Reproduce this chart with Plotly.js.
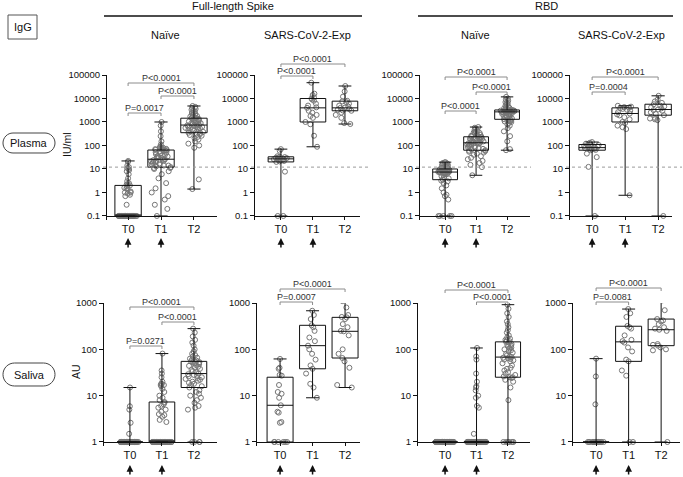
<!DOCTYPE html>
<html><head><meta charset="utf-8">
<script src="https://cdn.plot.ly/plotly-3.0.1.min.js"></script>
<style>html,body{margin:0;padding:0;background:#fff;} #chart{width:683px;height:477px;}</style>
</head><body><div id="chart"></div>
<script>
// ---------- DATA ----------
const timepoints = ['T0', 'T1', 'T2'];
const plasmaTicks = [0.1, 1, 10, 100, 1000, 10000, 100000];
const plasmaTickText = ['0.1', '1', '10', '100', '1000', '10000', '100000'];
const salivaTicks = [1, 10, 100, 1000];
const salivaTickText = ['1', '10', '100', '1000'];
const plasmaCutoff = 12;
const arrowTimepoints = [0, 1];

// Plasma, Full-length Spike, Naive
const plasmaSpikeNaiveT0 = [0.1,0.1,0.1,0.1,0.1,0.1,0.1,0.1,0.1,0.1,0.1,0.1,0.1,0.1,0.1,0.1,0.1,0.1,0.1,0.1,0.1,0.1,0.1,0.1,0.1,0.1,0.1,0.1,0.1,0.1,0.1,0.1,0.1,0.1,0.3,0.7,0.8,0.9,1.0,1.0,1.1,1.3,1.5,1.6,1.8,2.0,2.0,2.2,2.5,3,4,6,8,9,10,11,12,14,20,22];
const plasmaSpikeNaiveT1 = [0.1,0.2,0.3,0.5,0.7,1,1.5,2.5,4,6,8,10,11,11,12,13,14,14,15,16,17,18,19,20,21,22,23,24,25,26,28,30,32,34,36,38,40,43,46,49,52,55,58,60,63,65,68,70,72,75,78,80,85,90,110,150,250,400,700,1000];
const plasmaSpikeNaiveT2 = [1.4,3.6,80,100,120,150,180,200,230,260,280,300,320,340,350,380,400,430,460,480,500,530,560,590,620,650,680,700,720,740,780,820,860,900,950,1000,1050,1100,1150,1200,1250,1300,1350,1400,1450,1500,1600,1700,1800,2000,2200,2400,2600,2800,3000,3300,3600,4000,4400,4800];
const plasmaSpikeNaiveQ1 = [0.1, 12, 350];
const plasmaSpikeNaiveMedian = [0.1, 26, 740];
const plasmaSpikeNaiveQ3 = [2, 64, 1450];
const plasmaSpikeNaiveMin = [0.1, 0.1, 1.4];
const plasmaSpikeNaiveMax = [22, 1000, 4800];
const plasmaSpikeNaivePairs = [[0, 2], [1, 2], [0, 1]];
const plasmaSpikeNaiveP = ['P<0.0001', 'P<0.0001', 'P=0.0017'];

// Plasma, Full-length Spike, SARS-CoV-2-Exp
const plasmaSpikeExpT0 = [0.1,0.1,7.7,20,21,22,23,24,25,26,27,28,29,30,31,32,33,35,60,70];
const plasmaSpikeExpT1 = [88,260,800,1000,1500,1800,2000,2500,3000,4000,4200,5000,6000,8000,9000,10000,11000,14000,16000,47000];
const plasmaSpikeExpT2 = [820,900,1500,2000,2500,3000,3100,3300,3600,4000,4100,4500,5000,6000,7000,7500,8000,12000,20000,34000];
const plasmaSpikeExpQ1 = [20, 1000, 3000];
const plasmaSpikeExpMedian = [27, 4000, 4000];
const plasmaSpikeExpQ3 = [33, 10000, 7700];
const plasmaSpikeExpMin = [0.1, 88, 820];
const plasmaSpikeExpMax = [70, 47000, 34000];
const plasmaSpikeExpPairs = [[0, 2], [0, 1]];
const plasmaSpikeExpP = ['P<0.0001', 'P<0.0001'];

// Plasma, RBD, Naive
const plasmaRbdNaiveT0 = [0.1,0.1,0.1,0.1,0.1,0.5,0.7,0.8,1,1.5,2,2.5,3,3.2,3.5,4,4.5,5,5.5,6,6.2,6.5,6.8,7,7.1,7.2,7.3,7.4,7.4,7.5,7.6,7.8,8,8.2,8.4,8.6,8.8,9,9.2,9.4,9.5,9.6,9.8,10,10,10.5,11,11,12,12,13,13,14,14,15,16,17,18,19,19.5];
const plasmaRbdNaiveT1 = [5.4,12,15,18,22,26,30,35,40,45,50,54,58,60,63,68,72,76,80,85,90,95,100,105,110,115,120,124,127,130,135,140,145,150,160,165,170,180,185,190,200,210,220,228,235,240,250,260,280,300,320,340,360,380,400,430,470,520,570,610];
const plasmaRbdNaiveT2 = [63,70,150,250,400,550,700,800,900,1000,1050,1100,1150,1250,1300,1400,1500,1600,1700,1850,2000,2100,2200,2300,2400,2500,2550,2600,2650,2700,2750,2800,2850,2900,2950,3000,3020,3050,3080,3100,3130,3160,3190,3220,3250,3400,3600,3800,4000,4300,4600,5000,5500,6000,6500,7000,8000,9000,10000,11700];
const plasmaRbdNaiveQ1 = [3.5, 63, 1300];
const plasmaRbdNaiveMedian = [7.4, 130, 2700];
const plasmaRbdNaiveQ3 = [10, 235, 3250];
const plasmaRbdNaiveMin = [0.1, 5.4, 63];
const plasmaRbdNaiveMax = [19.5, 610, 11700];
const plasmaRbdNaivePairs = [[0, 2], [1, 2], [0, 1]];
const plasmaRbdNaiveP = ['P<0.0001', 'P<0.0001', 'P<0.0001'];

// Plasma, RBD, SARS-CoV-2-Exp
const plasmaRbdExpT0 = [0.1,12.3,32,45,63,65,68,72,75,78,81,85,90,95,100,105,110,120,130,140];
const plasmaRbdExpT1 = [0.76,500,600,700,900,1000,1300,1600,1900,2100,2300,2600,3000,3300,3600,3900,4100,4300,4500,4900];
const plasmaRbdExpT2 = [0.1,1200,1300,1400,1500,1950,2200,2600,3000,3200,3400,3800,4200,4600,5000,5700,6500,7500,9000,13000];
const plasmaRbdExpQ1 = [63, 1000, 1950];
const plasmaRbdExpMedian = [81, 2300, 3400];
const plasmaRbdExpQ3 = [110, 4000, 5700];
const plasmaRbdExpMin = [0.1, 0.76, 0.1];
const plasmaRbdExpMax = [140, 4900, 13000];
const plasmaRbdExpPairs = [[0, 2], [0, 1]];
const plasmaRbdExpP = ['P<0.0001', 'P=0.0004'];

// Saliva, Full-length Spike, Naive
const salivaSpikeNaiveT0 = [1,1,1,1,1,1,1,1,1,1,1,1,1,1,1,1,1,1,1,1,1,1,1,1,1,1,1,1,1,1,1,1,1,1,1,1,1,1,1,1,1,1,1,1,1,1,1,1,1,1,1,1,1,1,1,1.5,2.6,5,5.9,15];
const salivaSpikeNaiveT1 = [1,1,1,1,1,1,1,1,1,1,1,1,1,1,1,1,1,1,1,1,1,1,1,1,1,1,1,1,1,1,1,1,1,2.7,3,3.5,3.8,4,4.5,5,5.5,6,6.5,7,7.3,8,9,10,12,14,16,17,17,18,18,20,25,30,35,81];
const salivaSpikeNaiveT2 = [1,1,1,1,5,5.5,6,7,8,9,10,11,12,13,15,16,17,18,19,20,21,22,23,24,25,26,27,28,29,30,32,34,36,38,40,42,44,46,48,50,51,52,53,54,55,57,60,63,66,70,75,80,90,100,120,140,160,190,230,280];
const salivaSpikeNaiveQ1 = [1, 1, 15];
const salivaSpikeNaiveMedian = [1, 1, 30];
const salivaSpikeNaiveQ3 = [1, 7.3, 55];
const salivaSpikeNaiveMin = [1, 1, 1];
const salivaSpikeNaiveMax = [15, 81, 280];
const salivaSpikeNaivePairs = [[0, 2], [1, 2], [0, 1]];
const salivaSpikeNaiveP = ['P<0.0001', 'P<0.0001', 'P=0.0271'];

// Saliva, Full-length Spike, SARS-CoV-2-Exp
const salivaSpikeExpT0 = [1,1,1,1,1,1,2.6,2.7,4.3,4.5,6.2,9,11,12,17,27,28,38,40,62];
const salivaSpikeExpT1 = [9,15,18,30,38,45,60,80,100,120,150,180,250,300,330,450,550,680];
const salivaSpikeExpT2 = [15,17,40,55,65,80,100,200,245,250,300,350,450,490,500,550,800,1100];
const salivaSpikeExpQ1 = [1, 38, 65];
const salivaSpikeExpMedian = [6.2, 120, 245];
const salivaSpikeExpQ3 = [25, 330, 490];
const salivaSpikeExpMin = [1, 9, 15];
const salivaSpikeExpMax = [62, 680, 1100];
const salivaSpikeExpPairs = [[0, 2], [0, 1]];
const salivaSpikeExpP = ['P<0.0001', 'P=0.0007'];

// Saliva, RBD, Naive
const salivaRbdNaiveT0 = [1,1,1,1,1,1,1,1,1,1,1,1,1,1,1,1,1,1,1,1,1,1,1,1,1,1,1,1,1,1,1,1,1,1,1,1,1,1,1,1,1,1,1,1,1,1,1,1,1,1,1,1,1,1,1,1,1,1,1,1];
const salivaRbdNaiveT1 = [1,1,1,1,1,1,1,1,1,1,1,1,1,1,1,1,1,1,1,1,1,1,1,1,1,1,1,1,1,1,1,1,1,1,1,1,1,1,1,1,1,1,1,1,1,1,1,1.5,5.5,6,9,10,13,15,16,20,30,60,70,107];
const salivaRbdNaiveT2 = [1,1,1,1,1,1,1,8,15,20,22,24,25,25,26,28,30,32,35,38,40,45,50,55,58,60,62,64,66,68,70,75,80,85,90,95,100,105,110,115,120,125,130,140,145,150,155,160,170,180,200,230,260,300,350,400,500,600,750,920];
const salivaRbdNaiveQ1 = [1, 1, 25];
const salivaRbdNaiveMedian = [1, 1, 68];
const salivaRbdNaiveQ3 = [1, 1, 145];
const salivaRbdNaiveMin = [1, 1, 1];
const salivaRbdNaiveMax = [1, 107, 920];
const salivaRbdNaivePairs = [[0, 2], [1, 2]];
const salivaRbdNaiveP = ['P<0.0001', 'P<0.0001'];

// Saliva, RBD, SARS-CoV-2-Exp
const salivaRbdExpT0 = [1,1,1,1,1,1,1,1,1,1,1,1,1,1,1,1,1,6.5,26,63];
const salivaRbdExpT1 = [1,1,27,35,55,60,90,110,140,150,160,200,280,300,320,500,600,740];
const salivaRbdExpT2 = [1,95,100,110,120,125,130,250,265,280,300,350,400,420,450,700,1140];
const salivaRbdExpQ1 = [1, 55, 120];
const salivaRbdExpMedian = [1, 145, 265];
const salivaRbdExpQ3 = [1, 315, 450];
const salivaRbdExpMin = [1, 1, 1];
const salivaRbdExpMax = [63, 740, 1140];
const salivaRbdExpPairs = [[0, 2], [0, 1]];
const salivaRbdExpP = ['P<0.0001', 'P=0.0081'];

// ---------- LAYOUT GEOMETRY (pixels) ----------
const W = 683, H = 477;
const PX = v => v / W;
const PY = v => 1 - v / H;

const rows = [
  {range: [-1.15, 5], topPx: 75, bottomPx: 219.5, axisPx: 216, ticks: plasmaTicks, text: plasmaTickText, arrowTip: 238},
  {range: [-0.08, 3], topPx: 303, bottomPx: 445.7, axisPx: 442, ticks: salivaTicks, text: salivaTickText, arrowTip: 465}
];

const panels = [
  {row: 0, xPx: [107, 217], xRange: [-0.64, 2.7], bracketY: [83, 96, 113], cutPx: [103, 230],
   groups: [plasmaSpikeNaiveT0, plasmaSpikeNaiveT1, plasmaSpikeNaiveT2], q1: plasmaSpikeNaiveQ1, med: plasmaSpikeNaiveMedian, q3: plasmaSpikeNaiveQ3, lo: plasmaSpikeNaiveMin, hi: plasmaSpikeNaiveMax, pairs: plasmaSpikeNaivePairs, p: plasmaSpikeNaiveP},
  {row: 0, xPx: [255, 360], xRange: [-0.81, 2.47], bracketY: [64, 76], cutPx: [251, 370],
   groups: [plasmaSpikeExpT0, plasmaSpikeExpT1, plasmaSpikeExpT2], q1: plasmaSpikeExpQ1, med: plasmaSpikeExpMedian, q3: plasmaSpikeExpQ3, lo: plasmaSpikeExpMin, hi: plasmaSpikeExpMax, pairs: plasmaSpikeExpPairs, p: plasmaSpikeExpP},
  {row: 0, xPx: [420, 530], xRange: [-0.81, 2.74], bracketY: [77, 92, 111], cutPx: [416, 531],
   groups: [plasmaRbdNaiveT0, plasmaRbdNaiveT1, plasmaRbdNaiveT2], q1: plasmaRbdNaiveQ1, med: plasmaRbdNaiveMedian, q3: plasmaRbdNaiveQ3, lo: plasmaRbdNaiveMin, hi: plasmaRbdNaiveMax, pairs: plasmaRbdNaivePairs, p: plasmaRbdNaiveP},
  {row: 0, xPx: [570, 672], xRange: [-0.67, 2.42], bracketY: [77, 92], cutPx: [566, 682],
   groups: [plasmaRbdExpT0, plasmaRbdExpT1, plasmaRbdExpT2], q1: plasmaRbdExpQ1, med: plasmaRbdExpMedian, q3: plasmaRbdExpQ3, lo: plasmaRbdExpMin, hi: plasmaRbdExpMax, pairs: plasmaRbdExpPairs, p: plasmaRbdExpP},
  {row: 1, xPx: [104, 217], xRange: [-0.81, 2.72], bracketY: [307, 322, 346],
   groups: [salivaSpikeNaiveT0, salivaSpikeNaiveT1, salivaSpikeNaiveT2], q1: salivaSpikeNaiveQ1, med: salivaSpikeNaiveMedian, q3: salivaSpikeNaiveQ3, lo: salivaSpikeNaiveMin, hi: salivaSpikeNaiveMax, pairs: salivaSpikeNaivePairs, p: salivaSpikeNaiveP},
  {row: 1, xPx: [257, 360], xRange: [-0.71, 2.46], bracketY: [289, 302],
   groups: [salivaSpikeExpT0, salivaSpikeExpT1, salivaSpikeExpT2], q1: salivaSpikeExpQ1, med: salivaSpikeExpMedian, q3: salivaSpikeExpQ3, lo: salivaSpikeExpMin, hi: salivaSpikeExpMax, pairs: salivaSpikeExpPairs, p: salivaSpikeExpP},
  {row: 1, xPx: [418, 530], xRange: [-0.86, 2.7], bracketY: [290, 302],
   groups: [salivaRbdNaiveT0, salivaRbdNaiveT1, salivaRbdNaiveT2], q1: salivaRbdNaiveQ1, med: salivaRbdNaiveMedian, q3: salivaRbdNaiveQ3, lo: salivaRbdNaiveMin, hi: salivaRbdNaiveMax, pairs: salivaRbdNaivePairs, p: salivaRbdNaiveP},
  {row: 1, xPx: [573, 680], xRange: [-0.71, 2.58], bracketY: [288, 302],
   groups: [salivaRbdExpT0, salivaRbdExpT1, salivaRbdExpT2], q1: salivaRbdExpQ1, med: salivaRbdExpMedian, q3: salivaRbdExpQ3, lo: salivaRbdExpMin, hi: salivaRbdExpMax, pairs: salivaRbdExpPairs, p: salivaRbdExpP}
];

// ---------- BUILD ----------
const FONT = 'Liberation Sans, Arial, Helvetica, sans-serif';
const traces = [], shapes = [], annotations = [];
const layout = {
  width: W, height: H, margin: {l: 0, r: 0, t: 0, b: 0},
  paper_bgcolor: '#ffffff', plot_bgcolor: 'rgba(0,0,0,0)',
  showlegend: false, boxmode: 'overlay',
  font: {family: FONT, color: '#1a1a1a', size: 10},
  shapes: shapes, annotations: annotations
};

panels.forEach((p, i) => {
  const n = i + 1;
  const xs = n === 1 ? 'x' : 'x' + n;
  const ys = n === 1 ? 'y' : 'y' + n;
  const r = rows[p.row];
  layout[n === 1 ? 'xaxis' : 'xaxis' + n] = {
    type: 'linear', domain: [PX(p.xPx[0]), PX(p.xPx[1])], range: p.xRange,
    anchor: 'free', position: PY(r.axisPx),
    tickmode: 'array', tickvals: [0, 1, 2], ticktext: timepoints,
    showline: true, linecolor: '#111', linewidth: 1,
    ticks: 'outside', ticklen: 3, tickcolor: '#111', tickwidth: 1,
    showgrid: false, zeroline: false, fixedrange: true,
    tickfont: {family: FONT, size: 11, color: '#111'}
  };
  layout[n === 1 ? 'yaxis' : 'yaxis' + n] = {
    type: 'log', domain: [PY(r.bottomPx), PY(r.topPx)], range: r.range,
    anchor: xs, tickmode: 'array', tickvals: r.ticks, ticktext: r.text,
    showline: true, linecolor: '#111', linewidth: 1,
    ticks: 'outside', ticklen: 4, tickcolor: '#111', tickwidth: 1,
    showgrid: false, zeroline: false, fixedrange: true,
    tickfont: {family: FONT, size: 9.5, color: '#111'}
  };

  // individual points (jittered by the box trace)
  const px = [], pyv = [];
  p.groups.forEach((g, gi) => g.forEach(v => { px.push(gi); pyv.push(v); }));
  traces.push({
    type: 'box', x: px, y: pyv, xaxis: xs, yaxis: ys,
    boxpoints: 'all', jitter: 0.75, pointpos: 0, width: 0.8,
    line: {color: 'rgba(0,0,0,0)', width: 0}, fillcolor: 'rgba(0,0,0,0)',
    marker: {symbol: 'circle-open', size: 5, color: '#767676', line: {width: 1}},
    hoverinfo: 'skip'
  });
  // box with min-max whiskers
  traces.push({
    type: 'box', x: [0, 1, 2], q1: p.q1, median: p.med, q3: p.q3,
    lowerfence: p.lo, upperfence: p.hi, xaxis: xs, yaxis: ys,
    boxpoints: false, width: 0.8, whiskerwidth: 0.5,
    line: {color: '#111', width: 1}, fillcolor: 'rgba(0,0,0,0)',
    hoverinfo: 'skip'
  });

  // significance brackets
  p.pairs.forEach((pr, k) => {
    const yb = p.bracketY[k];
    const lc = {color: '#8c8c8c', width: 1};
    shapes.push({type: 'line', xref: xs, yref: 'paper', x0: pr[0], x1: pr[1], y0: PY(yb), y1: PY(yb), line: lc});
    pr.forEach(e => shapes.push({type: 'line', xref: xs, yref: 'paper', x0: e, x1: e, y0: PY(yb), y1: PY(yb + 3), line: lc}));
    annotations.push({xref: xs, yref: 'paper', x: (pr[0] + pr[1]) / 2, y: PY(yb + 1.5), yanchor: 'bottom',
      text: p.p[k], showarrow: false, font: {family: FONT, size: 9, color: '#333'}});
  });

  // arrows under T0 and T1
  arrowTimepoints.forEach(c => annotations.push({
    xref: xs, yref: 'paper', x: c, y: PY(r.arrowTip), ax: 0, ay: 11, text: '',
    showarrow: true, arrowhead: 2, arrowsize: 0.9, arrowwidth: 1.5, arrowcolor: '#111'
  }));

  // positivity cut-off (plasma only)
  if (p.row === 0) {
    const f = (Math.log10(plasmaCutoff) - r.range[0]) / (r.range[1] - r.range[0]);
    shapes.push({type: 'line', xref: 'paper', yref: ys + ' domain', x0: PX(p.cutPx[0]), x1: PX(p.cutPx[1]), y0: f, y1: f,
      line: {color: '#9a9a9a', width: 1, dash: 'dot'}});
  }
});

// Header lines and labels
shapes.push({type: 'line', xref: 'paper', yref: 'paper', x0: PX(104), x1: PX(362), y0: PY(16), y1: PY(16), line: {color: '#111', width: 1.5}});
shapes.push({type: 'line', xref: 'paper', yref: 'paper', x0: PX(418), x1: PX(673), y0: PY(16), y1: PY(16), line: {color: '#111', width: 1.5}});
shapes.push({type: 'rect', xref: 'paper', yref: 'paper', x0: PX(8), x1: PX(37), y0: PY(39), y1: PY(15), line: {color: '#555', width: 1}});

function pill(x0, y0, x1, y1) {
  const r = (y1 - y0) / 2, k = 0.5523 * r;
  const P = (x, y) => PX(x).toFixed(5) + ',' + PY(y).toFixed(5);
  return 'M' + P(x0 + r, y0) + ' L' + P(x1 - r, y0) +
    ' C' + P(x1 - r + k, y0) + ' ' + P(x1, y0 + r - k) + ' ' + P(x1, y0 + r) +
    ' C' + P(x1, y0 + r + k) + ' ' + P(x1 - r + k, y1) + ' ' + P(x1 - r, y1) +
    ' L' + P(x0 + r, y1) +
    ' C' + P(x0 + r - k, y1) + ' ' + P(x0, y0 + r + k) + ' ' + P(x0, y0 + r) +
    ' C' + P(x0, y0 + r - k) + ' ' + P(x0 + r - k, y0) + ' ' + P(x0 + r, y0) + ' Z';
}
shapes.push({type: 'path', xref: 'paper', yref: 'paper', path: pill(3, 133, 55, 153), line: {color: '#444', width: 1}});
shapes.push({type: 'path', xref: 'paper', yref: 'paper', path: pill(3, 363, 55, 386), line: {color: '#444', width: 1}});

const txt = (x, y, t, size, extra) => annotations.push(Object.assign({
  xref: 'paper', yref: 'paper', x: PX(x), y: PY(y), text: t, showarrow: false,
  xanchor: 'center', yanchor: 'middle', font: {family: FONT, size: size, color: '#111'}
}, extra || {}));
txt(233, 6, 'Full-length Spike', 11);
txt(546, 6, 'RBD', 11);
txt(165, 35, 'Naïve', 11);
txt(307, 35, 'SARS-CoV-2-Exp', 11);
txt(475, 35, 'Naïve', 11);
txt(621, 35, 'SARS-CoV-2-Exp', 11);
txt(22.5, 27, 'IgG', 11);
txt(29, 143, 'Plasma', 11);
txt(29, 374.5, 'Saliva', 11);
txt(67, 145, 'IU/ml', 10.5, {textangle: -90});
txt(76, 372, 'AU', 10.5, {textangle: -90});

Plotly.newPlot('chart', traces, layout, {staticPlot: true, displayModeBar: false});
</script></body></html>
